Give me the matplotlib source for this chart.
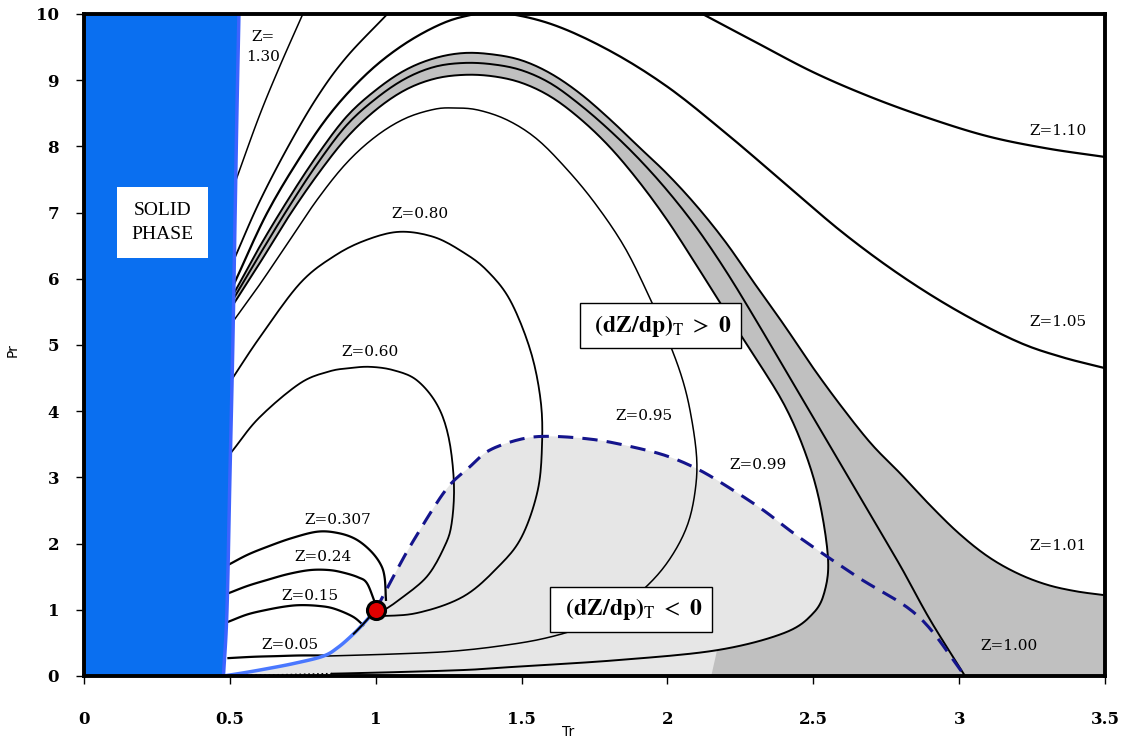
import numpy as np
import matplotlib.pyplot as plt

plt.rcParams["mathtext.fontset"] = "stix"

# curvas Z = cte en el plano Tr - Pr
tr_melt = [0.478, 0.49, 0.50, 0.51, 0.518, 0.524, 0.531]
pr_melt = [0.0, 1.0, 3.0, 5.0, 7.0, 8.5, 10.0]

tr_sat = [0.478, 0.55, 0.627, 0.72, 0.82, 0.87, 0.92, 0.96, 1.0]
pr_sat = [0.0, 0.05, 0.11, 0.19, 0.30, 0.43, 0.62, 0.80, 1.0]

tr_z005 = [0.495, 0.58, 0.66, 0.74, 0.82]
pr_z005 = [0.27, 0.29, 0.30, 0.31, 0.31]

tr_z015 = [0.495, 0.56, 0.627, 0.69, 0.74, 0.80, 0.855, 0.92, 0.957]
pr_z015 = [0.82, 0.93, 1.0, 1.05, 1.07, 1.06, 1.02, 0.9, 0.77]

tr_z024 = [0.495, 0.56, 0.627, 0.70, 0.775, 0.84, 0.89, 0.94, 0.97, 0.998]
pr_z024 = [1.25, 1.36, 1.45, 1.54, 1.6, 1.6, 1.56, 1.49, 1.4, 1.1]

tr_z0307 = [0.495, 0.56, 0.627, 0.71, 0.80, 0.87, 0.93, 0.98, 1.015, 1.03, 1.035]
pr_z0307 = [1.68, 1.83, 1.95, 2.08, 2.18, 2.16, 2.07, 1.9, 1.7, 1.5, 1.15]

tr_z060 = [0.505, 0.6, 0.74, 0.84, 0.91, 0.98, 1.06, 1.14, 1.21, 1.25, 1.268,
           1.26, 1.235, 1.175, 1.08, 1.02]
pr_z060 = [3.38, 3.9, 4.42, 4.6, 4.65, 4.67, 4.62, 4.47, 4.1, 3.6, 2.9,
           2.3, 1.95, 1.5, 1.15, 0.97]

tr_z080 = [0.505, 0.6, 0.74, 0.86, 0.97, 1.083, 1.2, 1.3, 1.38, 1.46, 1.53,
           1.565, 1.57, 1.555, 1.5, 1.42, 1.3, 1.14, 0.99]
pr_z080 = [4.47, 5.1, 5.93, 6.35, 6.59, 6.71, 6.63, 6.4, 6.13, 5.68, 4.92,
           4.17, 3.5, 2.8, 2.1, 1.65, 1.2, 0.95, 0.9]

tr_z095 = [0.51, 0.6, 0.7, 0.8, 0.9, 1.0, 1.1, 1.2, 1.27, 1.35, 1.45, 1.55,
           1.65, 1.75, 1.85, 1.93, 2.0, 2.05, 2.08, 2.10, 2.095, 2.07, 2.02,
           1.95, 1.85, 1.72, 1.58, 1.42, 1.25, 1.05, 0.82]
pr_z095 = [5.35, 5.9, 6.55, 7.2, 7.75, 8.15, 8.42, 8.56, 8.58, 8.55, 8.4, 8.12,
           7.68, 7.15, 6.5, 5.8, 5.1, 4.5, 3.95, 3.3, 2.8, 2.3, 1.85,
           1.45, 1.07, 0.76, 0.57, 0.45, 0.37, 0.33, 0.30]

tr_z099 = [0.51, 0.6, 0.7, 0.8, 0.9, 1.0, 1.1, 1.2, 1.3, 1.4, 1.5, 1.6, 1.7,
           1.8, 1.9, 2.0, 2.1, 2.2, 2.3, 2.4, 2.47, 2.52, 2.55, 2.54, 2.50,
           2.40, 2.17, 1.83, 1.48, 1.30, 1.0, 0.85]
pr_z099 = [5.6, 6.22, 6.93, 7.57, 8.13, 8.55, 8.85, 9.02, 9.08, 9.06, 8.96,
           8.75, 8.42, 8.0, 7.48, 6.88, 6.2, 5.5, 4.82, 4.1, 3.4, 2.66, 1.8,
           1.3, 0.95, 0.65, 0.39, 0.24, 0.14, 0.09, 0.05, 0.035]
tr_z099_dot = [0.85, 0.7, 0.55]
pr_z099_dot = [0.035, 0.02, 0.01]

tr_z100 = [0.51, 0.6, 0.7, 0.8, 0.9, 1.0, 1.1, 1.2, 1.3, 1.4, 1.5, 1.6, 1.7,
           1.8, 1.9, 2.0, 2.1, 2.2, 2.3, 2.4, 2.5, 2.6, 2.7, 2.8, 2.9, 3.02]
pr_z100 = [5.68, 6.35, 7.07, 7.74, 8.32, 8.72, 9.02, 9.2, 9.26, 9.24, 9.15,
           8.95, 8.63, 8.25, 7.82, 7.33, 6.77, 6.12, 5.4, 4.65, 3.9, 3.15, 2.4,
           1.65, 0.85, 0.0]

tr_z101 = [0.51, 0.6, 0.7, 0.8, 0.9, 1.0, 1.1, 1.2, 1.3, 1.4, 1.5, 1.6, 1.7,
           1.8, 1.9, 2.0, 2.1, 2.2, 2.3, 2.4, 2.5, 2.6, 2.7, 2.8, 2.9, 3.0,
           3.1, 3.2, 3.3, 3.4, 3.5]
pr_z101 = [5.75, 6.47, 7.2, 7.87, 8.45, 8.85, 9.15, 9.33, 9.41, 9.39, 9.3,
           9.1, 8.8, 8.42, 8.0, 7.58, 7.1, 6.55, 5.92, 5.3, 4.65, 4.05, 3.5,
           3.05, 2.58, 2.15, 1.8, 1.55, 1.38, 1.28, 1.22]

tr_z105 = [0.515, 0.627, 0.75, 0.854, 0.97, 1.083, 1.2, 1.3, 1.42, 1.6, 1.8,
           2.0, 2.2, 2.4, 2.6, 2.8, 3.0, 3.2, 3.35, 3.5]
pr_z105 = [5.93, 6.99, 7.9, 8.55, 9.1, 9.5, 9.8, 9.96, 10.02, 9.85, 9.45,
           8.9, 8.2, 7.45, 6.7, 6.05, 5.5, 5.05, 4.82, 4.65]

tr_z110a = [0.515, 0.6, 0.7, 0.8, 0.9, 1.04]
pr_z110a = [6.3, 7.15, 8.0, 8.75, 9.35, 10.0]
tr_z110b = [2.12, 2.3, 2.5, 2.7, 2.9, 3.1, 3.3, 3.5]
pr_z110b = [10.0, 9.58, 9.12, 8.74, 8.42, 8.15, 7.97, 7.84]

tr_z130 = [0.52, 0.6, 0.67, 0.75]
pr_z130 = [7.48, 8.45, 9.2, 10.0]

# lugar geometrico (dZ/dp)T = 0
tr_dz0 = [1.0, 1.06, 1.13, 1.24, 1.32, 1.39, 1.5, 1.6, 1.75, 1.88, 2.0, 2.11,
          2.22, 2.33, 2.45, 2.65, 2.86, 3.02]
pr_dz0 = [1.0, 1.5, 2.05, 2.81, 3.15, 3.41, 3.58, 3.62, 3.57, 3.46, 3.32, 3.11,
          2.82, 2.5, 2.1, 1.5, 0.9, 0.0]

# borde inferior de la zona gris oscura
tr_borde = [3.5, 2.15]
pr_borde = [0.0, 0.0]
corte_z099 = tr_z099.index(2.17)  # punto de Z=0.99 donde se cierra la zona gris

etiquetas = [
    ("Z=0.80", 1.15, 6.98), ("Z=0.60", 0.98, 4.89), ("Z=0.307", 0.87, 2.36),
    ("Z=0.24", 0.82, 1.80), ("Z=0.15", 0.775, 1.21), ("Z=0.05", 0.706, 0.47),
    ("Z=0.95", 1.92, 3.93), ("Z=0.99", 2.31, 3.19), ("Z=1.00", 3.17, 0.45),
    ("Z=1.01", 3.34, 1.96), ("Z=1.05", 3.34, 5.35), ("Z=1.10", 3.34, 8.23),
    ("Z=", 0.614, 9.65), ("1.30", 0.612, 9.35),
]

N = 10


def suave(x, y):
    # Catmull-Rom solo para dibujar la linea sin quiebres
    p = np.column_stack([np.asarray(x, float), np.asarray(y, float)])
    p = np.vstack([2 * p[0] - p[1], p, 2 * p[-1] - p[-2]])
    t = np.linspace(0, 1, N, endpoint=False)[:, None]
    trozos = []
    for i in range(1, len(p) - 2):
        p0, p1, p2, p3 = p[i - 1], p[i], p[i + 1], p[i + 2]
        trozos.append(0.5 * (2 * p1 + (p2 - p0) * t
                             + (2 * p0 - 5 * p1 + 4 * p2 - p3) * t ** 2
                             + (3 * p1 - p0 - 3 * p2 + p3) * t ** 3))
    trozos.append(p[-2][None, :])
    q = np.vstack(trozos)
    return q[:, 0], q[:, 1]


fig = plt.figure(figsize=(11.22, 7.40), dpi=100)
ax = fig.add_axes([0.0749, 0.0865, 0.910, 0.8946])

# zona (dZ/dp)T < 0
sx, sy = suave(tr_sat, pr_sat)
dx, dy = suave(tr_dz0, pr_dz0)
ax.fill(np.r_[sx, dx[1:]], np.r_[sy, dy[1:]], color="#e6e6e6", lw=0, zorder=1)

# banda 0.99 < Z < 1.01
ax_, ay_ = suave(tr_z101, pr_z101)
bx, by = suave(tr_z099, pr_z099)
k = corte_z099 * N
ax.fill(np.r_[ax_, tr_borde, bx[:k + 1][::-1]],
        np.r_[ay_, pr_borde, by[:k + 1][::-1]],
        color="#c0c0c0", lw=0, zorder=2)

curvas = [
    (tr_z005, pr_z005, 1.6), (tr_z015, pr_z015, 1.6), (tr_z024, pr_z024, 1.6),
    (tr_z0307, pr_z0307, 1.6), (tr_z060, pr_z060, 1.3), (tr_z080, pr_z080, 1.3),
    (tr_z095, pr_z095, 1.1), (tr_z099, pr_z099, 1.4), (tr_z100, pr_z100, 1.4),
    (tr_z101, pr_z101, 1.4), (tr_z105, pr_z105, 1.6), (tr_z110a, pr_z110a, 1.3),
    (tr_z110b, pr_z110b, 1.6), (tr_z130, pr_z130, 1.1),
]
for x, y, lw in curvas:
    cx, cy = suave(x, y)
    ax.plot(cx, cy, color="black", lw=lw, zorder=3)
ax.plot(tr_z099_dot, pr_z099_dot, color="black", lw=1.2, ls=":", zorder=3)

ax.plot(dx, dy, color="#14148c", lw=2.2, ls=(0, (5, 3)), zorder=4)

# fase solida
mx, my = suave(tr_melt, pr_melt)
ax.fill_betweenx(my, 0, mx, color="#0a6ff0", lw=0, zorder=5)
ax.plot(mx, my, color="#3d63ff", lw=2.5, zorder=5)
ax.plot(sx, sy, color="#4a78ff", lw=2.5, zorder=4)
ax.plot(sx[-2 * N:], sy[-2 * N:], color="black", lw=1.4, zorder=4)

ax.plot([1.0], [1.0], "o", ms=13, mfc="#e00000", mec="black", mew=2.2, zorder=7)

for txt, x, y in etiquetas:
    ax.text(x, y, txt, family="DejaVu Serif", fontsize=11, ha="center",
            va="center", zorder=6)

ax.text(0.27, 6.85, "SOLID\nPHASE", family="Liberation Serif", fontsize=14,
        ha="center", va="center", linespacing=1.6, zorder=6,
        bbox=dict(boxstyle="square,pad=0.75", fc="white", ec="none"))

caja = dict(boxstyle="square,pad=0.4", fc="white", ec="black", lw=1)
ax.text(1.975, 5.29, r"$\ \mathbf{(dZ/dp)}_{\mathrm{T}}\ >\ \mathbf{0}\ \ \ \ $",
        fontsize=17, ha="center", va="center", zorder=6, bbox=caja)
ax.text(1.875, 1.01, r"$\ \mathbf{(dZ/dp)}_{\mathrm{T}}\ <\ \mathbf{0}\ \ \ \ $",
        fontsize=17, ha="center", va="center", zorder=6, bbox=caja)

ax.set_xlim(0, 3.5)
ax.set_ylim(0, 10)
ax.set_xticks(np.arange(0, 3.51, 0.5))
ax.set_xticklabels(["0", "0.5", "1", "1.5", "2", "2.5", "3", "3.5"])
ax.set_yticks(range(0, 11))
for lab in ax.get_xticklabels() + ax.get_yticklabels():
    lab.set_family("DejaVu Serif")
    lab.set_fontweight("bold")
    lab.set_fontsize(12)
ax.tick_params(axis="x", direction="out", length=6, width=1, pad=19)
ax.tick_params(axis="y", direction="out", length=6, width=1, pad=12)
for s in ax.spines.values():
    s.set_linewidth(2.8)
    s.set_zorder(8)

ax.set_xlabel("Tr", fontsize=10, family="DejaVu Sans")
ax.xaxis.set_label_coords(0.474, -0.074)
ax.set_ylabel("Pr", fontsize=10, family="DejaVu Sans")
ax.yaxis.set_label_coords(-0.063, 0.492)

plt.savefig("out.png", dpi=100)
